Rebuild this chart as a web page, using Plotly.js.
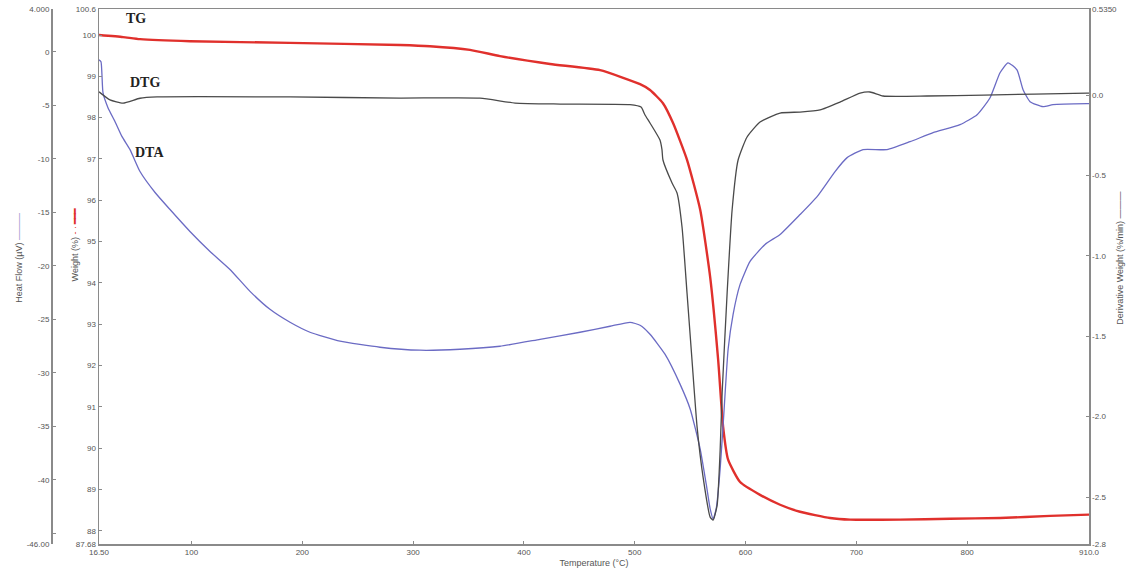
<!DOCTYPE html>
<html>
<head>
<meta charset="utf-8">
<script src="https://cdn.plot.ly/plotly-3.0.1.min.js"></script>
<style>
  html, body { margin: 0; padding: 0; background: #fff; }
  #chart { width: 1139px; height: 578px; }
</style>
</head>
<body>
<div id="chart"></div>
<script>
// TG: weight loss (%) against temperature (°C)
var tgTemp   = [16.5, 38.2, 53.5, 98.6, 188.9, 288.2, 315.2, 351.3, 378.4, 423.6, 468.7, 504.8, 513.8, 525.5, 534.6, 547.2, 559.1, 568.1, 575.3, 579.8, 584.3, 595.1, 613.1, 631.2, 649.2, 676.3, 694.4, 739.5, 784.6, 829.7, 874.9, 910.0];
var tgWeight = [100.0, 99.95, 99.90, 99.85, 99.81, 99.76, 99.73, 99.64, 99.49, 99.30, 99.15, 98.81, 98.67, 98.35, 97.87, 96.98, 95.77, 94.14, 92.14, 90.51, 89.72, 89.18, 88.87, 88.63, 88.46, 88.31, 88.27, 88.27, 88.29, 88.31, 88.36, 88.39];

// DTG: derivative weight (%/min)
var dtgTemp  = [16.5, 26.4, 38.2, 53.5, 68.9, 188.9, 288.2, 360.4, 392.0, 432.6, 495.8, 505.7, 509.3, 513.8, 522.8, 524.6, 525.5, 533.7, 538.2, 542.7, 547.2, 551.7, 556.3, 561.7, 568.1, 570.8, 574.4, 577.1, 578.9, 583.4, 587.9, 593.3, 601.4, 613.1, 631.2, 649.2, 667.3, 685.3, 703.4, 712.4, 724.1, 763.8, 815.2, 908.2, 910.0];
var dtgDeriv = [0.02, -0.03, -0.05, -0.02, -0.012, -0.012, -0.019, -0.019, -0.05, -0.056, -0.06, -0.075, -0.124, -0.174, -0.28, -0.34, -0.404, -0.547, -0.609, -0.821, -1.231, -1.648, -2.065, -2.376, -2.625, -2.643, -2.55, -2.208, -1.853, -1.231, -0.715, -0.404, -0.261, -0.168, -0.112, -0.106, -0.093, -0.044, 0.012, 0.019, -0.006, -0.006, 0.0, 0.012, 0.012];

// DTA: heat flow (µV)
var dtaTemp = [16.5, 18.3, 20.1, 24.6, 31.0, 37.3, 44.5, 53.5, 67.1, 80.6, 98.6, 116.7, 134.7, 152.8, 170.8, 188.9, 206.9, 234.0, 270.1, 306.2, 342.3, 378.4, 414.5, 450.6, 477.7, 495.8, 504.8, 513.8, 527.3, 540.9, 550.1, 559.1, 564.5, 568.1, 570.8, 573.5, 577.1, 580.7, 584.3, 588.8, 595.1, 604.1, 617.6, 631.2, 649.2, 664.6, 680.8, 691.7, 706.1, 727.7, 748.5, 769.3, 793.6, 809.0, 820.7, 829.7, 836.9, 845.0, 850.5, 856.8, 868.5, 877.5, 908.2, 910.0];
var dtaHeat = [-0.75, -0.93, -3.82, -5.22, -6.53, -7.93, -9.14, -11.19, -13.15, -14.74, -16.79, -18.66, -20.34, -22.39, -24.07, -25.28, -26.21, -27.05, -27.61, -27.89, -27.80, -27.52, -26.87, -26.21, -25.65, -25.28, -25.56, -26.40, -28.26, -31.06, -33.40, -37.13, -40.39, -42.72, -43.66, -42.72, -38.99, -33.40, -27.80, -24.53, -21.74, -19.59, -18.00, -17.07, -15.21, -13.53, -11.19, -9.89, -9.14, -9.14, -8.40, -7.56, -6.81, -5.88, -4.29, -1.96, -1.03, -1.68, -3.54, -4.66, -5.13, -4.94, -4.85, -4.85];

// Axis ranges and tick labels
var tempRange = [16.5, 910.0];
var tempTicks = [16.5, 100, 200, 300, 400, 500, 600, 700, 800, 910.0];
var tempTickText = ['16.50', '100', '200', '300', '400', '500', '600', '700', '800', '910.0'];

var weightRange = [87.68, 100.63];
var weightTicks = [87.68, 88, 89, 90, 91, 92, 93, 94, 95, 96, 97, 98, 99, 100, 100.63];
var weightTickText = ['87.68', '88', '89', '90', '91', '92', '93', '94', '95', '96', '97', '98', '99', '100', '100.6'];

var heatRange = [-46.0, 4.0];
var heatTicks = [-46.0, -45, -40, -35, -30, -25, -20, -15, -10, -5, 0, 4.0];
var heatTickText = ['-46.00', '', '-40', '-35', '-30', '-25', '-20', '-15', '-10', '-5', '0', '4.000'];

var derivRange = [-2.792, 0.535];
var derivTicks = [-2.792, -2.5, -2.0, -1.5, -1.0, -0.5, 0.0, 0.535];
var derivTickText = ['-2.8', '-2.5', '-2.0', '-1.5', '-1.0', '-0.5', '0.0', '0.5350'];

var curveLabels = ['TG', 'DTG', 'DTA'];

var axisColor = '#8a8a8a';
var sansFamily = 'Liberation Sans, Arial, sans-serif';
var tickFont = { family: sansFamily, size: 8, color: '#555555' };
var titleFont = { family: sansFamily, size: 9, color: '#555555' };
var labelFont = { family: 'Liberation Serif, Times New Roman, serif', size: 14, color: '#222222' };

// Smoothed lines: the thermal curves are continuous recordings
var traces = [
  { x: dtaTemp, y: dtaHeat, yaxis: 'y2', type: 'scatter', mode: 'lines',
    line: { color: '#6b6bc4', width: 1.3, shape: 'spline', smoothing: 0.5 }, name: 'DTA' },
  { x: dtgTemp, y: dtgDeriv, yaxis: 'y3', type: 'scatter', mode: 'lines',
    line: { color: '#4a4a4a', width: 1.3, shape: 'spline', smoothing: 0.5 }, name: 'DTG' },
  { x: tgTemp, y: tgWeight, yaxis: 'y', type: 'scatter', mode: 'lines',
    line: { color: '#e0302c', width: 2.4, shape: 'spline', smoothing: 0.5 }, name: 'TG' }
];

var commonAxis = {
  showgrid: false, zeroline: false, showline: true,
  linecolor: axisColor, linewidth: 1.5,
  ticks: 'inside', ticklen: 3, tickcolor: axisColor, tickwidth: 1,
  tickfont: tickFont, tickmode: 'array'
};

var layout = {
  width: 1139, height: 578,
  margin: { l: 51, r: 50, t: 9, b: 34 },
  paper_bgcolor: '#ffffff', plot_bgcolor: '#ffffff',
  showlegend: false,
  xaxis: Object.assign({}, commonAxis, {
    domain: [48 / 1038, 1], range: tempRange,
    tickvals: tempTicks, ticktext: tempTickText,
    mirror: true,
    title: { text: 'Temperature (°C)', font: titleFont, standoff: 3 }
  }),
  yaxis: Object.assign({}, commonAxis, {
    range: weightRange, tickvals: weightTicks, ticktext: weightTickText,
    anchor: 'x'
  }),
  yaxis2: Object.assign({}, commonAxis, {
    range: heatRange, tickvals: heatTicks, ticktext: heatTickText,
    overlaying: 'y', anchor: 'free', position: 0, side: 'left'
  }),
  yaxis3: Object.assign({}, commonAxis, {
    range: derivRange, tickvals: derivTicks, ticktext: derivTickText,
    overlaying: 'y', anchor: 'x', side: 'right'
  }),
  annotations: [
    { xref: 'x', yref: 'y', x: 50, y: 100.4, text: '<b>' + curveLabels[0] + '</b>', showarrow: false, font: labelFont },
    { xref: 'x', yref: 'y', x: 58, y: 98.85, text: '<b>' + curveLabels[1] + '</b>', showarrow: false, font: labelFont },
    { xref: 'x', yref: 'y', x: 62, y: 97.15, text: '<b>' + curveLabels[2] + '</b>', showarrow: false, font: labelFont },
    { xref: 'paper', yref: 'paper', x: -0.0376, y: 0.535, textangle: -90, showarrow: false,
      text: 'Heat Flow (µV) <span style="color:#8a8ac8">———</span>', font: titleFont },
    { xref: 'paper', yref: 'paper', x: 0.0164, y: 0.56, textangle: -90, showarrow: false,
      text: 'Weight (%) <span style="color:#e0302c">- · <b>━━━</b></span>', font: titleFont },
    { xref: 'paper', yref: 'paper', x: 1.0366, y: 0.535, textangle: -90, showarrow: false,
      text: 'Derivative Weight (%/min) <span style="color:#555555">———</span>', font: titleFont }
  ]
};

Plotly.newPlot('chart', traces, layout, { displayModeBar: false, staticPlot: true });
</script>
</body>
</html>
